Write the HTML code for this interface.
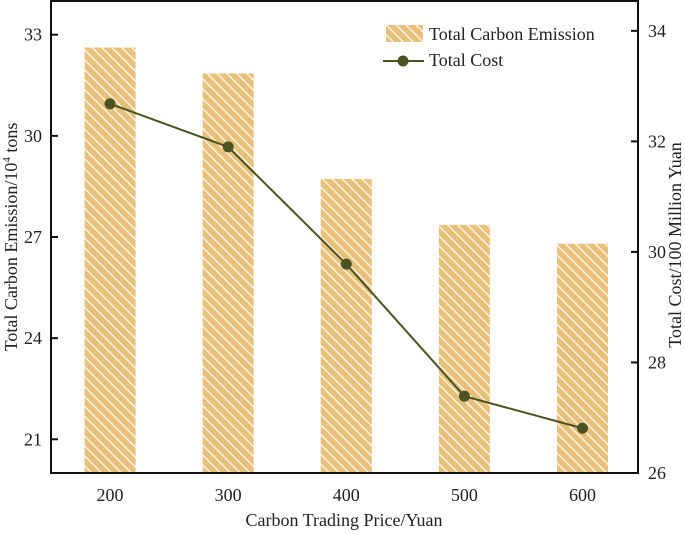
<!DOCTYPE html>
<html><head><meta charset="utf-8"><style>
body{margin:0;background:#fff}
svg text{font-family:"Liberation Serif",serif;fill:#222}
</style></head><body>
<svg width="685" height="530" viewBox="0 0 685 530" xmlns="http://www.w3.org/2000/svg">
<defs>
<pattern id="hatch" patternUnits="userSpaceOnUse" width="7" height="7" patternTransform="rotate(-45)">
<rect width="7" height="7" fill="#E9C07A"/>
<line x1="3.5" y1="0" x2="3.5" y2="7" stroke="#fff" stroke-width="1.2"/>
</pattern>
</defs>
<g id="marks"></g>
<g id="axes"></g>
</svg>
<script>
const categories=[200,300,400,500,600];
const emission=[32.62,31.85,28.72,27.36,26.8];
const cost=[32.68,31.9,29.78,27.39,26.81];
const leftTicks=[21,24,27,30,33];
const rightTicks=[26,28,30,32,34];

const X0=51,X1=638,Y0=1,Y1=473;
const xs=v=>X0+(v-150)*(X1-X0)/(647-150);
const yl=v=>Y1-(v-20)*(Y1-Y0)/(34-20);
const yr=v=>Y1-(v-26)*(Y1-Y0)/(34.54-26);
const NS="http://www.w3.org/2000/svg";
function mk(tag,attrs,parent,txt){const e=document.createElementNS(NS,tag);for(const k in attrs)e.setAttribute(k,attrs[k]);if(txt!==undefined)e.textContent=txt;parent.appendChild(e);return e;}
const marks=document.getElementById('marks'),axes=document.getElementById('axes');
const bw=51;
categories.forEach((c,i)=>{
 const r=mk('rect',{x:xs(c)-bw/2,y:yl(emission[i]),width:bw,height:Y1-yl(emission[i]),fill:'url(#hatch)'},marks);
 
 
});
const pts=categories.map((c,i)=>xs(c)+','+yr(cost[i])).join(' ');
const pl=mk('polyline',{points:pts,fill:'none',stroke:'#4B5320','stroke-width':2},marks);


categories.forEach((c,i)=>{
 const p=mk('circle',{cx:xs(c),cy:yr(cost[i]),r:5.5,fill:'#4B5320'},marks);
 
 
});
const frame=mk('rect',{x:X0,y:Y0,width:X1-X0,height:Y1-Y0,fill:'none',stroke:'#111','stroke-width':2},axes);


leftTicks.forEach(t=>{
 mk('line',{x1:X0,x2:X0+7,y1:yl(t),y2:yl(t),stroke:'#111','stroke-width':2},axes);
 const tx=mk('text',{x:42,y:yl(t)+6,'text-anchor':'end','font-size':18},axes,t);
 
 
});
rightTicks.forEach(t=>{
 mk('line',{x1:X1-7,x2:X1,y1:yr(t),y2:yr(t),stroke:'#111','stroke-width':2},axes);
 const tx=mk('text',{x:648,y:yr(t)+6,'font-size':18},axes,t);
 
 
});
categories.forEach(c=>{
 const tx=mk('text',{x:xs(c),y:501,'text-anchor':'middle','font-size':18},axes,c);
 
 
});
</script>
<svg style="position:absolute;left:0;top:0" width="685" height="530">
<text x="344" y="526" text-anchor="middle" font-size="18" font-family="Liberation Serif, serif" fill="#222">Carbon Trading Price/Yuan</text>
<text transform="translate(17,237) rotate(-90)" text-anchor="middle" font-size="18" font-family="Liberation Serif, serif" fill="#222">Total Carbon Emission/10<tspan dy="-7" font-size="11">4</tspan><tspan dy="7"> tons</tspan></text>
<text transform="translate(681,245) rotate(-90)" text-anchor="middle" font-size="18" font-family="Liberation Serif, serif" fill="#222">Total Cost/100 Million Yuan</text>
<g>
<rect x="386" y="25" width="37" height="17" fill="url(#hatch)"/>
<text x="429" y="40" font-size="18" font-family="Liberation Serif, serif" fill="#222">Total Carbon Emission</text>
<line x1="383" x2="424" y1="61" y2="61" stroke="#4B5320" stroke-width="2"/>
<circle cx="403" cy="61" r="5.5" fill="#4B5320"/>
<text x="429" y="66" font-size="18" font-family="Liberation Serif, serif" fill="#222">Total Cost</text>
</g>
</svg>
</body></html>
